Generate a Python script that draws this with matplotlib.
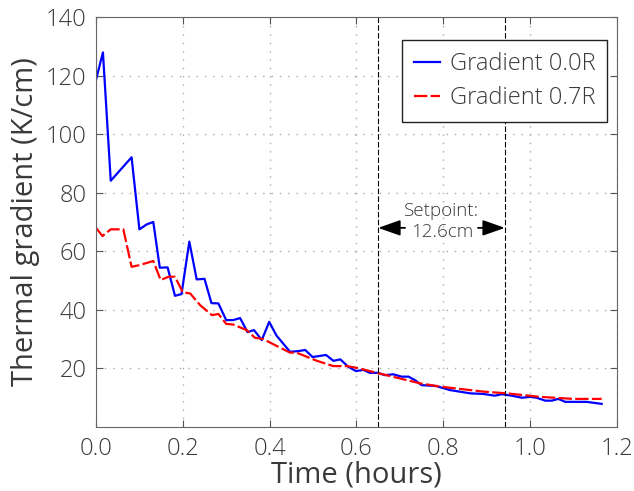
import numpy as np
import matplotlib
matplotlib.use('Agg')
import matplotlib.pyplot as plt

# Gradient 0.0R (blue, solid)
t_r00 = [0.0, 0.016, 0.034, 0.082, 0.100, 0.117, 0.132, 0.147, 0.165, 0.182, 0.197,
         0.215, 0.232, 0.250, 0.266, 0.282, 0.300, 0.316, 0.332, 0.349, 0.364, 0.382,
         0.399, 0.416, 0.447, 0.465, 0.482, 0.499, 0.530, 0.547, 0.563, 0.581, 0.599,
         0.616, 0.631, 0.649, 0.666, 0.685, 0.704, 0.720, 0.735, 0.750, 0.783, 0.816,
         0.862, 0.892, 0.919, 0.935, 0.958, 0.981, 1.000, 1.015, 1.035, 1.050, 1.065,
         1.081, 1.130, 1.165]
g_r00 = [118.5, 127.9, 84.1, 92.1, 67.5, 69.2, 70.0, 54.4, 54.5, 44.8, 45.4,
         63.3, 50.4, 50.6, 42.3, 42.2, 36.5, 36.5, 37.2, 32.4, 33.1, 29.7,
         35.9, 31.2, 25.7, 25.9, 26.3, 23.9, 24.6, 22.6, 23.1, 20.6, 19.1,
         19.5, 18.5, 18.5, 17.7, 18.0, 17.2, 17.2, 16.0, 14.3, 14.0, 12.6,
         11.5, 11.3, 10.7, 11.2, 10.7, 10.0, 10.3, 10.0, 9.0, 9.0, 9.6,
         8.6, 8.6, 7.9]

# Gradient 0.7R (red, dashed)
t_r07 = [0.0, 0.015, 0.034, 0.063, 0.082, 0.101, 0.132, 0.149, 0.167, 0.182, 0.200,
         0.217, 0.240, 0.267, 0.282, 0.300, 0.316, 0.347, 0.366, 0.386, 0.412, 0.447,
         0.462, 0.509, 0.547, 0.578, 0.601, 0.647, 0.747, 0.793, 0.892, 0.946, 1.023,
         1.100, 1.165]
g_r07 = [68.0, 65.2, 67.5, 67.5, 54.7, 55.3, 56.7, 50.2, 51.3, 51.3, 46.0,
         45.6, 41.6, 38.2, 38.6, 35.2, 35.0, 33.1, 30.5, 30.0, 28.0, 25.4,
         25.4, 22.6, 20.8, 20.8, 20.2, 18.5, 14.9, 13.8, 12.1, 11.5, 10.3,
         9.6, 9.6]

setpoint_lines = [0.65, 0.942]
xticks = [0.0, 0.2, 0.4, 0.6, 0.8, 1.0, 1.2]
yticks = [20, 40, 60, 80, 100, 120, 140]

txt = '#3a3a3a'
plt.rcParams['font.family'] = ['Open Sans', 'DejaVu Sans']
plt.rcParams['font.weight'] = 'light'
plt.rcParams['text.color'] = txt
plt.rcParams['axes.labelcolor'] = txt
plt.rcParams['xtick.color'] = '#555555'
plt.rcParams['ytick.color'] = '#555555'
plt.rcParams['xtick.labelcolor'] = txt
plt.rcParams['ytick.labelcolor'] = txt

fig = plt.figure(figsize=(6.34, 4.91), dpi=100)
ax = fig.add_axes([0.1514, 0.1303, 0.8216, 0.8351])

ax.plot(t_r00, g_r00, color='b', lw=1.6, label='Gradient 0.0R')
ax.plot(t_r07, g_r07, color='r', lw=1.6, ls='--', dashes=(6, 1.5), label='Gradient 0.7R')

for xv in setpoint_lines:
    ax.axvline(xv, color='k', lw=0.8, ls='--', dashes=(5, 2))

ax.text(0.797, 70.3, 'Setpoint:\n12.6cm', ha='center', va='center', fontsize=13.5,
        linespacing=1.2)
arrow = dict(arrowstyle='-|>,head_length=0.85,head_width=0.3', color='k', lw=1.3,
             mutation_scale=16, shrinkA=0, shrinkB=0)
ax.annotate('', xy=(setpoint_lines[0], 68), xytext=(0.712, 68), arrowprops=arrow)
ax.annotate('', xy=(setpoint_lines[1], 68), xytext=(0.880, 68), arrowprops=arrow)

ax.set_xlim(0, 1.2)
ax.set_ylim(0, 140)
ax.set_xticks(xticks)
ax.set_yticks(yticks)
ax.tick_params(direction='in', top=True, right=True, labelsize=17, length=5, pad=7)
ax.grid(True, color='#aaaaaa', ls=(0, (1, 5)), lw=1.0)
for s in ax.spines.values():
    s.set_color('#666666')

ax.set_xlabel('Time (hours)', fontsize=21, labelpad=0)
ax.set_ylabel('Thermal gradient (K/cm)', fontsize=21, labelpad=4)

leg = ax.legend(loc='upper right', bbox_to_anchor=(607 / 634, 1 - 40 / 491),
                bbox_transform=fig.transFigure, fontsize=17, handlelength=1.1,
                fancybox=False, framealpha=1, edgecolor='#222222', borderaxespad=0,
                borderpad=0.5, labelspacing=0.45, handletextpad=0.4)
leg.get_frame().set_linewidth(1.0)

fig.savefig('out.png', dpi=100)
